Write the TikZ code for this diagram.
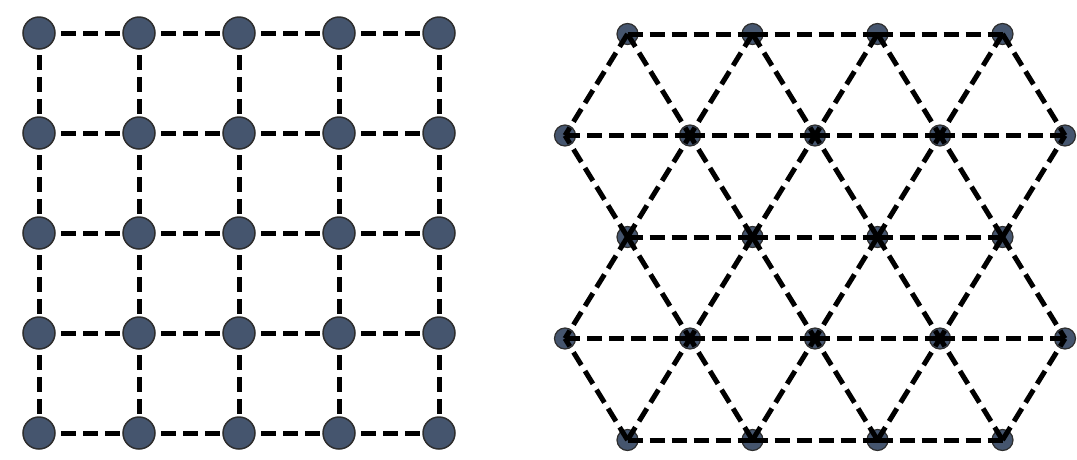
\documentclass[tikz,border=0pt]{standalone}
\definecolor{nodeblue}{HTML}{45556E}
\definecolor{nodeedge}{HTML}{2E2E2E}
\pgfdeclarelayer{bg}
\pgfsetlayers{bg,main}
\begin{document}
\begin{tikzpicture}[x=1pt,y=-1pt,
  sqnode/.style={circle,fill=nodeblue,draw=nodeedge,line width=1.5pt,minimum size=32pt,inner sep=0pt},
  trinode/.style={circle,fill=nodeblue,draw=nodeedge,line width=1.2pt,minimum size=21pt,inner sep=0pt},
  link/.style={line width=5pt,dash pattern=on 15pt off 7pt,black}]
\useasboundingbox (0,0) rectangle (1077,459);
% left square grid
\foreach \i in {0,...,4}{
  \foreach \j in {0,...,4}{
    \node[sqnode] (L-\i-\j) at ({39+100*\i},{33+100*\j}) {};
  }
}
\begin{pgfonlayer}{bg}
\foreach \i in {0,...,3}{
  \foreach \j in {0,...,4}{
    \pgfmathtruncatemacro\k{\i+1}
    \draw[link] (L-\i-\j.center) -- (L-\k-\j.center);
    \draw[link] (L-\j-\i.center) -- (L-\j-\k.center);
  }
}
\end{pgfonlayer}
% right triangular lattice
\foreach \j in {0,2,4}{
  \foreach \i in {0,...,3}{
    \node[trinode] (R-\j-\i) at ({627.5+125*\i},{34+101.5*\j}) {};
  }
}
\foreach \j in {1,3}{
  \foreach \i in {0,...,4}{
    \node[trinode] (R-\j-\i) at ({565+125*\i},{34+101.5*\j}) {};
  }
}
% horizontal links
\foreach \j in {0,2,4}{
  \foreach \i in {0,...,2}{
    \pgfmathtruncatemacro\k{\i+1}
    \draw[link] (R-\j-\i.center) -- (R-\j-\k.center);
  }
}
\foreach \j in {1,3}{
  \foreach \i in {0,...,3}{
    \pgfmathtruncatemacro\k{\i+1}
    \draw[link] (R-\j-\i.center) -- (R-\j-\k.center);
  }
}
% diagonal links
\foreach \j in {0,2}{
  \foreach \i in {0,...,3}{
    \pgfmathtruncatemacro\k{\i+1}
    \pgfmathtruncatemacro\m{\j+1}
    \draw[link] (R-\j-\i.center) -- (R-\m-\i.center);
    \draw[link] (R-\j-\i.center) -- (R-\m-\k.center);
  }
}
\foreach \j in {2,4}{
  \foreach \i in {0,...,3}{
    \pgfmathtruncatemacro\k{\i+1}
    \pgfmathtruncatemacro\m{\j-1}
    \draw[link] (R-\j-\i.center) -- (R-\m-\i.center);
    \draw[link] (R-\j-\i.center) -- (R-\m-\k.center);
  }
}
\end{tikzpicture}
\end{document}
